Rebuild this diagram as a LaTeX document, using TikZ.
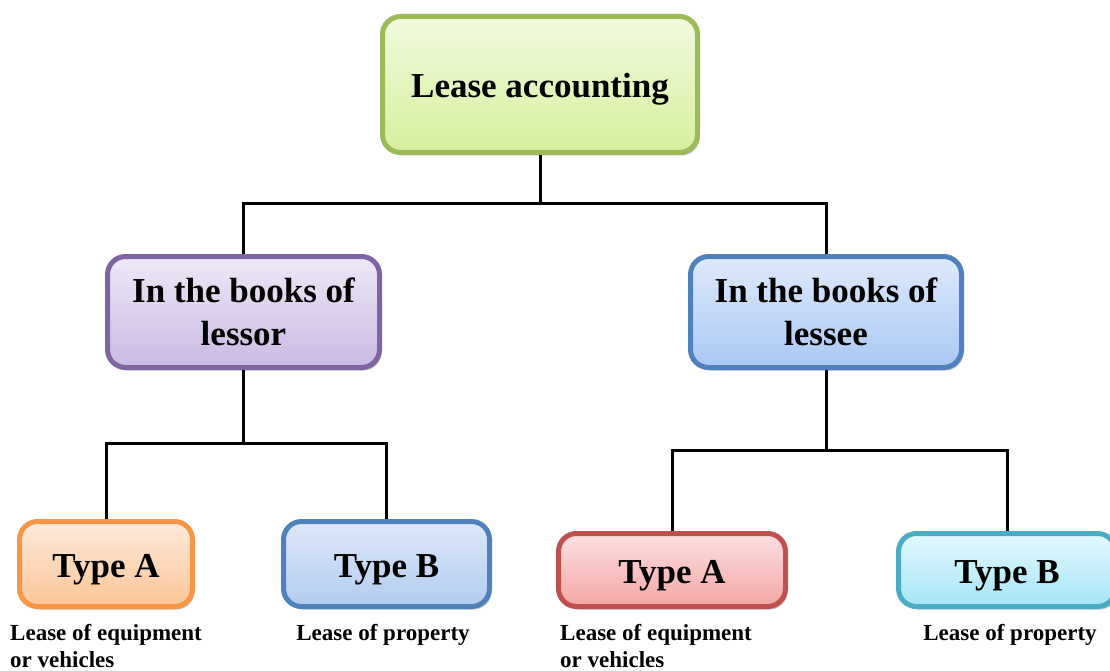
\documentclass[tikz,border=0pt]{standalone}
\usepackage{fontspec}
\setmainfont{Liberation Serif}
\usetikzlibrary{shadows,backgrounds}

% box palettes
\definecolor{grnB}{HTML}{9BBB59}\definecolor{grnT}{HTML}{F1FADF}\definecolor{grnD}{HTML}{D5F09C}
\definecolor{purB}{HTML}{8064A2}\definecolor{purT}{HTML}{EEE8F6}\definecolor{purD}{HTML}{CBB9E4}
\definecolor{bluB}{HTML}{4F81BD}\definecolor{bluT}{HTML}{DEEAFB}\definecolor{bluD}{HTML}{A9C8F4}
\definecolor{bl2T}{HTML}{DDE8F9}\definecolor{bl2D}{HTML}{B2CCF0}
\definecolor{orgB}{HTML}{F79646}\definecolor{orgT}{HTML}{FDEADB}\definecolor{orgD}{HTML}{FBC597}
\definecolor{redB}{HTML}{C0504D}\definecolor{redT}{HTML}{FBDFDF}\definecolor{redD}{HTML}{F5A6A6}
\definecolor{cynB}{HTML}{4BACC6}\definecolor{cynT}{HTML}{E3F8FE}\definecolor{cynD}{HTML}{A6E5F7}

\tikzset{
  box/.style={draw, line width=5pt, rounded corners=18pt, inner sep=0pt, align=center,
    font=\bfseries\fontsize{35}{43}\selectfont,
    drop shadow={shadow xshift=2pt, shadow yshift=-3pt, opacity=0.25, fill=black}},
  oneline/.style={text height=26pt, text depth=0pt},
  palette/.style n args={3}{draw=#1, top color=#2, bottom color=#3},
  link/.style={line width=3pt, black},
  caption/.style={inner sep=0pt, align=left, font=\bfseries\fontsize{23}{27}\selectfont}
}

\begin{document}
\begin{tikzpicture}[x=1pt, y=-1pt]
\useasboundingbox (0,0) rectangle (1110,671);

% root and the two books
\node[box, oneline, palette={grnB}{grnT}{grnD}, minimum width=315pt, minimum height=136pt] (root) at (540,84.5) {Lease accounting};
\node[box, palette={purB}{purT}{purD}, minimum width=272pt, minimum height=111pt] (lessor) at (243.5,312) {In the books of\\lessor};
\node[box, palette={bluB}{bluT}{bluD}, minimum width=271pt, minimum height=111pt] (lessee) at (826,312) {In the books of\\lessee};

% lease types
\node[box, oneline, palette={orgB}{orgT}{orgD}, minimum width=173pt, minimum height=85pt] (la) at (106,564) {Type A};
\node[box, oneline, palette={bluB}{bl2T}{bl2D}, minimum width=206pt, minimum height=85pt] (lb) at (386.5,564) {Type B};
\node[box, oneline, palette={redB}{redT}{redD}, minimum width=227pt, minimum height=73pt] (ra) at (672,570) {Type A};
\node[box, oneline, palette={cynB}{cynT}{cynD}, minimum width=217pt, minimum height=73pt] (rb) at (1007,570) {Type B};

% captions
\node[caption, anchor=base west] (cla) at (10,667) {Lease of equipment\\or vehicles};
\node[caption, anchor=base] (clb) at (383,640) {Lease of property};
\node[caption, anchor=base west] (cra) at (560,667) {Lease of equipment\\or vehicles};
\node[caption, anchor=base] (crb) at (1010,640) {Lease of property};

% white page, then the connectors, both behind the boxes
\begin{scope}[on background layer]
\fill[white] (0,0) rectangle (1110,671);
\coordinate (j0) at (540,203);
\coordinate (j1) at (243.5,443);
\coordinate (j2) at (826,450);
\draw[link] (root.south) -- (j0);
\draw[link] (lessor.north) |- (j0) -| (lessee.north);
\draw[link] (lessor.south) -- (j1);
\draw[link] (la.north) |- (j1) -| (lb.north);
\draw[link] (lessee.south) -- (j2);
\draw[link] (ra.north) |- (j2) -| (rb.north);
\end{scope}
\end{tikzpicture}
\end{document}
